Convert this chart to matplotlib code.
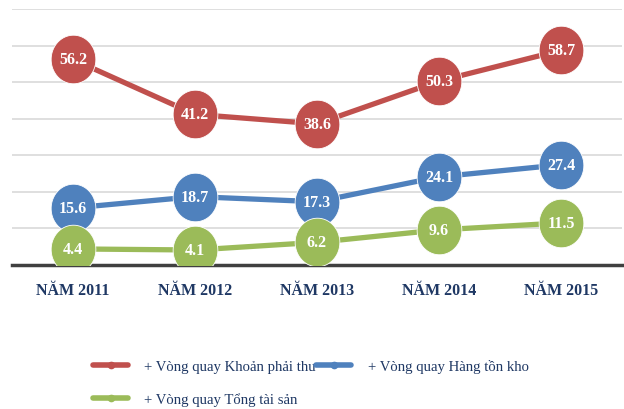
import matplotlib.pyplot as plt
from matplotlib.path import Path
import numpy as np

years = ['NĂM 2011', 'NĂM 2012', 'NĂM 2013', 'NĂM 2014', 'NĂM 2015']
khoan_phai_thu = [56.2, 41.2, 38.6, 50.3, 58.7]
hang_ton_kho = [15.6, 18.7, 17.3, 24.1, 27.4]
tong_tai_san = [4.4, 4.1, 6.2, 9.6, 11.5]
names = ['+ Vòng quay Khoản phải thu', '+ Vòng quay Hàng tồn kho',
         '+ Vòng quay Tổng tài sản']

plt.rcParams['font.family'] = ['Liberation Serif', 'DejaVu Serif']

# nearly round marker, a touch taller than wide
t = np.linspace(0, 2 * np.pi, 60)
oval = Path(np.column_stack([0.92 * np.cos(t), np.sin(t)]), closed=True)

fig = plt.figure(figsize=(6.24, 4.10), dpi=100)
ax = fig.add_axes([12 / 624, 1 - 266 / 410, 610 / 624, 256 / 410])

x = np.arange(len(years))
series = [(khoan_phai_thu, '#C0504D'), (hang_ton_kho, '#4F81BD'),
          (tong_tai_san, '#9BBB59')]
handles = []
for (vals, col), name in zip(series, names):
    ax.plot(x, vals, color=col, lw=3.8, zorder=3, solid_capstyle='round')
    ax.plot(x, vals, marker=oval, ls='none', color=col, ms=35,
            mec='white', mew=0.6, zorder=4)
    for xi, v in zip(x, vals):
        ax.text(xi, v, f'{v:.1f}', ha='center', va='center', color='white',
                fontsize=11.5, fontweight='bold', zorder=5)
    h, = ax.plot([], [], color=col, lw=4, marker='o', ms=4.5, label=name,
                 solid_capstyle='round')
    handles.append(h)

ax.set_xlim(-0.5, 4.5)
ax.set_ylim(0, 70)
ax.set_yticks(np.arange(10, 71, 10))
ax.yaxis.grid(True, color='#D9D9D9', lw=1.2)
ax.set_axisbelow(True)
ax.tick_params(axis='y', left=False, labelleft=False)
ax.tick_params(axis='x', bottom=False, pad=9)
ax.set_xticks(x)
ax.set_xticklabels(years, fontsize=11.5, fontweight='bold', color='#1F3864')
for s in ['top', 'right', 'left']:
    ax.spines[s].set_visible(False)
ax.spines['bottom'].set_color('#404040')
ax.spines['bottom'].set_linewidth(2.5)

leg = fig.legend([handles[0], handles[2], handles[1]],
                 [names[0], names[2], names[1]], ncol=2, frameon=False,
                 loc='upper left', bbox_to_anchor=(87 / 624, 1 - 354 / 410),
                 fontsize=10.6, handlelength=2.4, handletextpad=1.1,
                 columnspacing=0.0, labelspacing=1.35, borderaxespad=0)
for txt in leg.get_texts():
    txt.set_color('#1F3864')

fig.savefig('out.png', dpi=100)
